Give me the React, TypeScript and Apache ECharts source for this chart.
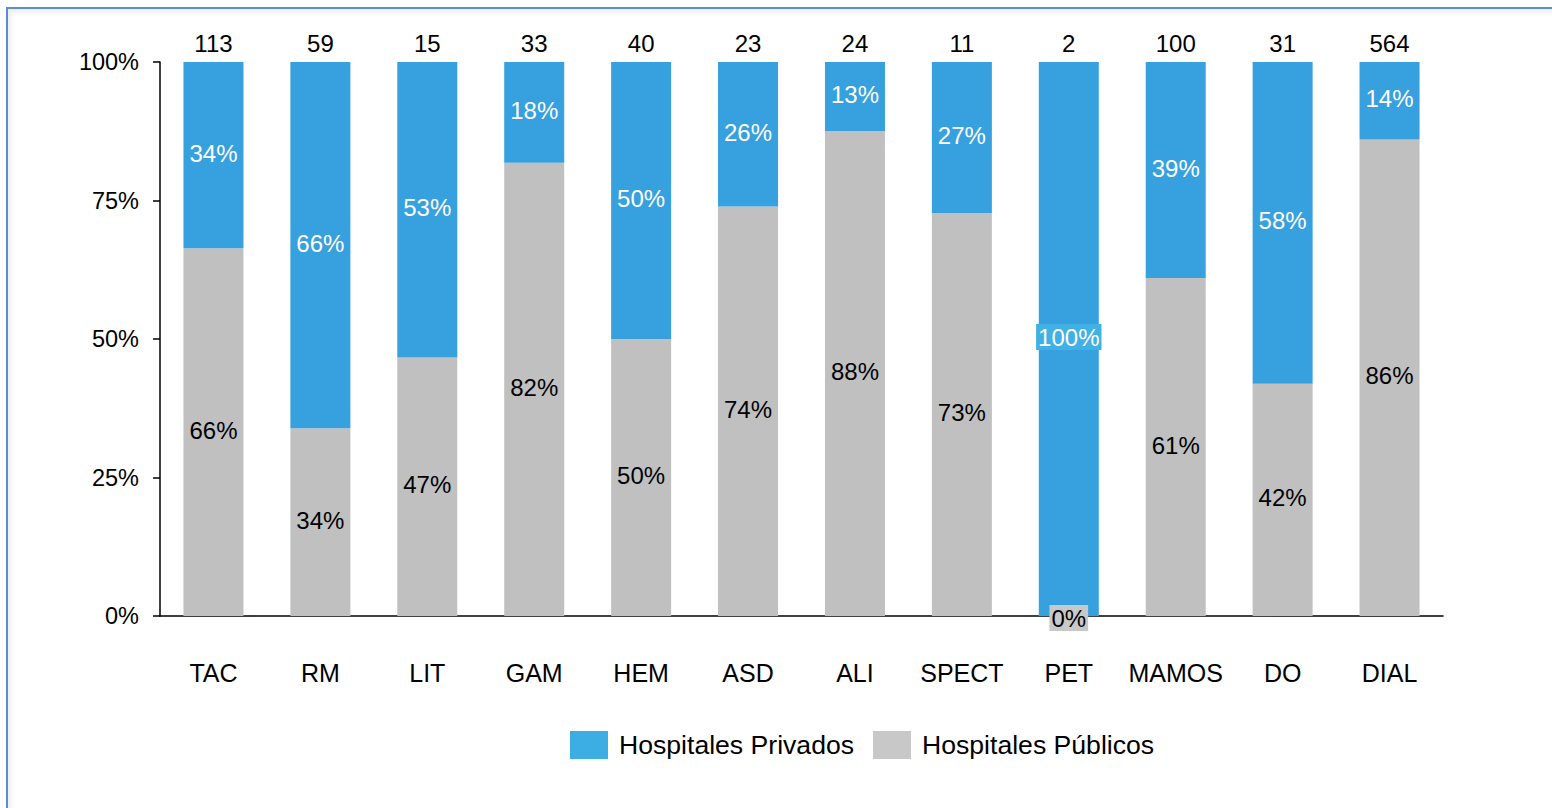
import React, { useEffect, useRef } from "react";
import * as echarts from "echarts";

const categories = ["TAC", "RM", "LIT", "GAM", "HEM", "ASD", "ALI", "SPECT", "PET", "MAMOS", "DO", "DIAL"];
const privadosCount = [38, 39, 8, 6, 20, 6, 3, 3, 2, 39, 18, 79];
const publicosCount = [75, 20, 7, 27, 20, 17, 21, 8, 0, 61, 13, 485];
const yTicks = [0, 25, 50, 75, 100];

const BLUE = "#37a0de";
const GRAY = "#c0c0c0";
const FONT = "'Liberation Sans', Arial, sans-serif";

export default function App() {
  const ref = useRef<HTMLDivElement>(null);
  useEffect(() => {
    if (!ref.current) return;
    const chart = echarts.init(ref.current, null, { renderer: "svg" });
    const totals = categories.map((_, i) => privadosCount[i] + publicosCount[i]);
    const privPct = categories.map((_, i) => (privadosCount[i] / totals[i]) * 100);
    const pubPct = categories.map((_, i) => (publicosCount[i] / totals[i]) * 100);

    const privData = privPct.map((v) =>
      v >= 99.5
        ? { value: v, label: { backgroundColor: "#41b0e4", padding: [1, 2] } }
        : { value: v }
    );
    const pubData = pubPct.map((v) =>
      v <= 0.5
        ? { value: v, label: { backgroundColor: "#c8c8c8", padding: [1, 2], offset: [0, 2] } }
        : { value: v }
    );

    chart.setOption({
      animation: false,
      textStyle: { fontFamily: FONT },
      grid: { left: 160, right: 109, top: 62, bottom: 192, containLabel: false },
      legend: {
        data: [
          { name: "Hospitales Privados", itemStyle: { color: "#3daee3" } },
          { name: "Hospitales Públicos", itemStyle: { color: "#c8c8c8" } },
        ],
        left: 570,
        top: 731,
        padding: 0,
        itemWidth: 38,
        itemHeight: 28,
        itemGap: 19,
        icon: "rect",
        textStyle: { fontSize: 26.6, color: "#000", fontFamily: FONT, padding: [5, 0, 0, 6] },
      },
      xAxis: [
        {
          type: "category",
          data: categories,
          axisLine: { lineStyle: { color: "#000", width: 1.5 } },
          axisTick: { show: false },
          axisLabel: { interval: 0, fontSize: 25, color: "#000", margin: 44, fontFamily: FONT },
        },
        {
          type: "category",
          position: "top",
          data: totals.map(String),
          axisLine: { show: false },
          axisTick: { show: false },
          axisLabel: { interval: 0, fontSize: 24, color: "#000", margin: 7, fontFamily: FONT },
        },
      ],
      yAxis: {
        type: "value",
        min: yTicks[0],
        max: yTicks[yTicks.length - 1],
        interval: 25,
        splitLine: { show: false },
        axisLine: { show: true, lineStyle: { color: "#000", width: 1.5 } },
        axisTick: { show: true, length: 7, lineStyle: { color: "#000", width: 1.5 } },
        axisLabel: { fontSize: 23.5, color: "#000", margin: 21, formatter: "{value}%", fontFamily: FONT, padding: [0, 0, 3, 0] },
      },
      series: [
        {
          name: "Hospitales Públicos",
          type: "bar",
          stack: "s",
          barWidth: 60,
          data: pubData,
          itemStyle: { color: GRAY },
          label: {
            show: true,
            position: "inside",
            color: "#000",
            fontSize: 24,
            fontFamily: FONT,
            offset: [0, -2],
            formatter: (p: any) => Math.round(p.value) + "%",
          },
        },
        {
          name: "Hospitales Privados",
          type: "bar",
          stack: "s",
          barWidth: 60,
          data: privData,
          itemStyle: { color: BLUE },
          label: {
            show: true,
            position: "inside",
            color: "#fff",
            fontSize: 24,
            fontFamily: FONT,
            offset: [0, -2],
            formatter: (p: any) => Math.round(p.value) + "%",
          },
        },
      ],
    });
    return () => chart.dispose();
  }, []);

  return (
    <div style={{ position: "fixed", left: 0, top: 0, width: 1552, height: 808, overflow: "hidden", background: "#fff" }}>
      <div
        style={{
          position: "absolute",
          left: 6,
          top: 7,
          width: 1700,
          height: 900,
          border: "2px solid #5b8fcb",
          boxShadow: "inset 3px 3px 5px rgba(0,0,0,0.08)",
        }}
      />
      <div ref={ref} style={{ position: "absolute", left: 0, top: 0, width: 1552, height: 808 }} />
    </div>
  );
}
